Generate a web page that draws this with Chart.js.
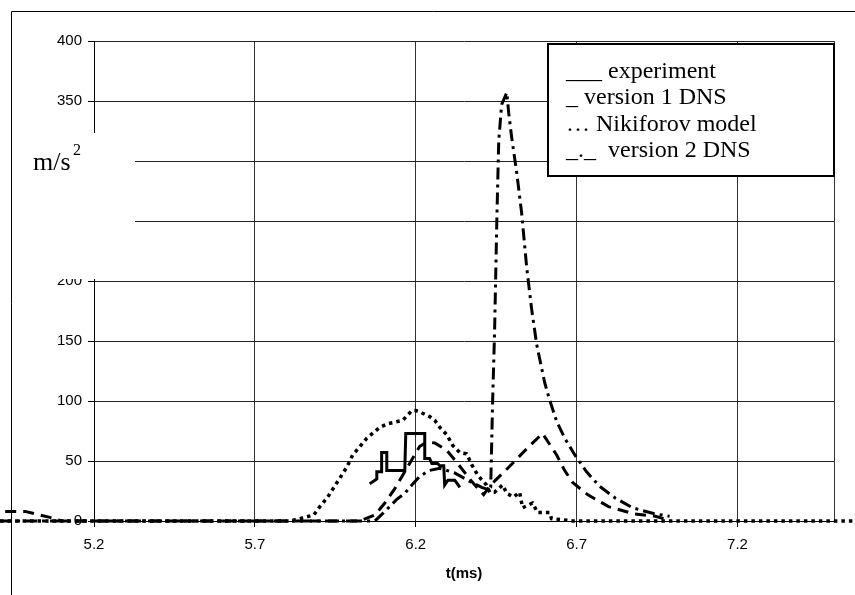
<!DOCTYPE html>
<html lang="en">
<head>
<meta charset="UTF-8">
<title>Acceleration vs time</title>
<script src="https://cdn.jsdelivr.net/npm/chart.js"></script>
<style>
  html, body { margin: 0; padding: 0; background: #fff; }
  canvas { display: block; }
</style>
</head>
<body>
<canvas id="accel" width="855" height="595"></canvas>
<script>
// axis ticks: time in ms, acceleration in m/s^2
const xTicks = [5.2, 5.7, 6.2, 6.7, 7.2, 7.5];
const yStep = 50;
const yMax = 400;

const seriesNames = ['experiment', 'version 1 DNS', 'Nikiforov model', 'version 2 DNS'];
const legendLines = ['___ experiment', '_ version 1 DNS', '\u2026 Nikiforov model', '_._  version 2 DNS'];

// experiment (stepped record)
const expT = [6.057, 6.079, 6.079, 6.094, 6.094, 6.110, 6.110, 6.166, 6.169, 6.228, 6.228, 6.243, 6.250, 6.268, 6.275, 6.287, 6.290, 6.300, 6.321, 6.327, 6.337];
const expV = [31, 35, 41, 41, 57, 57, 42, 42, 73, 73, 52, 52, 48, 48, 46, 46, 30, 34, 34, 32, 28];

// version 1 DNS
const v1T = [4.924, 4.986, 5.063, 5.101, 6.026, 6.073, 6.104, 6.135, 6.181, 6.212, 6.234, 6.259, 6.296, 6.330, 6.377, 6.411, 6.433, 6.486, 6.548, 6.594, 6.638, 6.663, 6.688, 6.734, 6.799, 6.877, 6.945, 6.983];
const v1V = [8, 8, 3, 0, 0, 5, 15, 27, 48, 62, 66, 65, 59, 48, 32, 22, 30, 44, 61, 73, 55, 42, 32, 22, 12, 6, 4, 1];

// Nikiforov model
const nkT = [4.908, 5.809, 5.840, 5.883, 5.902, 5.924, 5.948, 5.967, 5.986, 6.004, 6.023, 6.048, 6.070, 6.088, 6.113, 6.129, 6.160, 6.188, 6.200, 6.212, 6.243, 6.259, 6.275, 6.296, 6.315, 6.337, 6.358, 6.374, 6.393, 6.420, 6.430, 6.445, 6.470, 6.483, 6.504, 6.523, 6.532, 6.563, 6.579, 6.616, 6.622, 6.657, 6.688, 7.563];
const nkV = [0, 0, 2, 5, 12, 19, 29, 37, 45, 55, 61, 69, 74, 78, 81, 82, 84, 92, 92, 91, 87, 84, 78, 72, 63, 57, 56, 47, 38, 30, 24, 24, 30, 23, 20, 24, 11, 15, 7, 7, 2, 1, 0, 0];

// version 2 DNS
const v2T = [4.908, 6.073, 6.104, 6.141, 6.166, 6.188, 6.212, 6.240, 6.275, 6.321, 6.368, 6.405, 6.427, 6.433, 6.439, 6.445, 6.452, 6.458, 6.467, 6.483, 6.489, 6.498, 6.514, 6.529, 6.545, 6.560, 6.576, 6.601, 6.616, 6.638, 6.663, 6.697, 6.731, 6.771, 6.821, 6.874, 6.942, 6.989];
const v2V = [0, 0, 8, 18, 23, 30, 37, 42, 44, 40, 33, 28, 26, 28, 100, 157, 250, 317, 347, 357, 340, 320, 290, 257, 211, 177, 147, 115, 101, 83, 69, 54, 41, 29, 19, 11, 6, 4];

function pts(t, v) {
  return t.map((x, i) => ({ x: x, y: v[i] }));
}

function line(label, t, v, width, dash) {
  return {
    label: label,
    data: pts(t, v),
    borderColor: '#000',
    borderWidth: width,
    borderDash: dash,
    borderCapStyle: 'butt',
    borderJoinStyle: 'miter',
    pointRadius: 0,
    fill: false,
    tension: 0,
    clip: false
  };
}

// x range is set here rather than through min/max so the line
// controller keeps the parts of the traces outside the plot area
function fixRange(scale) {
  scale.min = xTicks[0];
  scale.max = xTicks[xTicks.length - 1];
}

// white patch with the unit, legend box and outer frame
const decorations = {
  id: 'decorations',
  afterDraw(chart) {
    const c = chart.ctx;
    c.save();
    c.fillStyle = '#fff';
    c.fillRect(12, 133, 123, 146);
    c.fillStyle = '#000';
    c.textBaseline = 'alphabetic';
    c.textAlign = 'left';
    c.font = '26px "Liberation Serif"';
    c.fillText('m/s', 33, 170);
    c.font = '16px "Liberation Serif"';
    c.fillText('2', 73, 155);

    c.strokeStyle = '#000';
    c.lineWidth = 1;
    c.beginPath();
    c.moveTo(11.5, 595);
    c.lineTo(11.5, 11.5);
    c.lineTo(855, 11.5);
    c.stroke();

    c.fillStyle = '#fff';
    c.fillRect(547, 43, 288, 134);
    c.lineWidth = 2;
    c.strokeRect(548, 44, 286, 132);
    c.fillStyle = '#000';
    c.font = '24px "Liberation Serif"';
    const base = [78, 104, 131, 157];
    legendLines.forEach((s, i) => c.fillText(s, 566, base[i]));
    c.restore();
  }
};

const tickFont = { family: '"Liberation Sans", Arial, sans-serif', size: 15 };

new Chart(document.getElementById('accel'), {
  type: 'line',
  data: {
    datasets: [
      line(seriesNames[0], expT, expV, 3, []),
      line(seriesNames[1], v1T, v1V, 3, [11, 7]),
      line(seriesNames[2], nkT, nkV, 3.5, [3.5, 4]),
      line(seriesNames[3], v2T, v2V, 3, [12, 5, 3, 5])
    ]
  },
  options: {
    responsive: false,
    animation: false,
    layout: { padding: { left: 0, top: 41, right: 21, bottom: 0 } },
    plugins: { legend: { display: false }, tooltip: { enabled: false } },
    scales: {
      x: {
        type: 'linear',
        bounds: 'data',
        afterDataLimits: fixRange,
        afterBuildTicks(scale) {
          scale.ticks = xTicks.map(v => ({ value: v }));
          fixRange(scale);
        },
        afterFit(scale) { scale.height = 74; },
        grid: {
          color: '#333',
          tickLength: 6,
          tickColor: ctx => (ctx.tick && ctx.tick.value === 7.5) ? 'rgba(0,0,0,0)' : '#000'
        },
        border: { color: '#000', width: 1 },
        ticks: {
          font: tickFont,
          color: '#000',
          padding: 9,
          maxRotation: 0,
          callback: v => v === 7.5 ? '' : v.toFixed(1)
        },
        title: {
          display: true,
          text: 't(ms)',
          color: '#000',
          font: { family: '"Liberation Sans", Arial, sans-serif', size: 15, weight: 'bold' },
          padding: { top: 0, bottom: 12 }
        }
      },
      y: {
        min: 0,
        max: yMax,
        afterFit(scale) { scale.width = 94; },
        grid: { color: '#222', tickLength: 6, tickColor: '#000' },
        border: { color: '#000', width: 1 },
        ticks: { stepSize: yStep, font: tickFont, color: '#000', padding: 6 }
      }
    }
  },
  plugins: [decorations]
});
</script>
</body>
</html>
